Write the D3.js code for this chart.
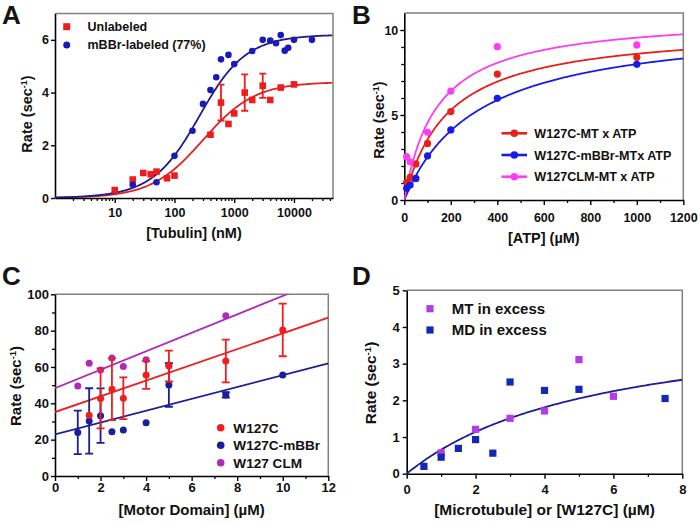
<!DOCTYPE html>
<html><head><meta charset="utf-8">
<script src="https://cdn.jsdelivr.net/npm/d3@7"></script>
<style>
body{margin:0;background:#fff}
svg{display:block;font-family:"Liberation Sans",Arial,sans-serif;font-weight:bold}
</style>
</head><body>
<svg id="c" width="700" height="522"></svg>
<script>
// ---------- Panel A ----------
const aRedX  = [10,20,30,40,50,75,100,400,600,800,1000,1500,2000,3000,4000,6000,10000];
const aRedY  = [0.3,0.7,0.95,0.9,1.0,0.75,0.85,2.4,3.62,2.81,3.21,4.0,3.72,4.26,3.72,4.19,4.31];
const aRedErr= [0,0,0,0,0,0,0,0,0.68,0,0,0.69,0,0.46,0,0,0];
const aBlueX = [20,50,100,200,300,400,500,600,800,1000,2000,3000,4000,5000,6000,7000,8000,10000,20000];
const aBlueY = [0.5,0.6,1.6,2.55,3.57,4.1,4.58,5.26,5.43,5.08,5.58,6.0,5.97,5.87,6.18,5.59,5.7,6.0,6.0];
const aFitRed  = [4.4, 300];        // Vmax, K (hyperbola)
const aFitBlue = [6.2, 100, 210];   // Vmax, E, K (quadratic)
const aXTicks = [10,100,1000,10000];
const aYTicks = [0,2,4,6];
const aNames = ["Unlabeled","mBBr-labeled (77%)"];

// ---------- Panel B ----------
const bX    = [10,25,50,100,200,400,1000];
const bRedY = [1.04,1.33,2.12,3.33,5.2,7.41,8.39];
const bBluY = [0.69,0.88,1.27,2.59,4.12,5.98,7.98];
const bMagX = [10,25,100,200,400,1000];
const bMagY = [2.55,2.25,3.98,6.41,9.02,9.12];
const bFits = [[10.2,186],[10.52,316],[10.88,139.5]]; // Vmax, Km
const bXTicks = [0,200,400,600,800,1000,1200];
const bYTicks = [0,5,10];
const bNames = ["W127C-MT x ATP","W127C-mBBr-MTx ATP","W127CLM-MT x ATP"];

// ---------- Panel C ----------
const cRedX  = [1.5,2,2.5,3,4,5,7.5,10];
const cRedY  = [33.5,42.7,47.7,42.8,55.6,60.5,63.3,80.4];
const cRedErr= [0,16.5,17,11.5,7.6,8.5,11.8,14.5];
const cBluX  = [1,1.5,2,2.5,3,4,5,7.5,10];
const cBluY  = [24,30.3,33.2,24.4,25.3,29.3,50.1,44.6,55.6];
const cBluErr= [12,18,15,0,0,0,12,1.5,0];
const cMagX  = [1,1.5,2,2.5,3,4,5,7.5];
const cMagY  = [49.5,62,58.3,65,60.2,64,61,88.2];
const cFits  = [[35.2,4.33],[22.9,3.26],[48.3,5.08]]; // intercept, slope
const cXTicks = [0,2,4,6,8,10,12];
const cYTicks = [0,20,40,60,80,100];
const cNames = ["W127C","W127C-mBBr","W127 CLM"];

// ---------- Panel D ----------
const dMagX = [1,2,3,4,5,6];
const dMagY = [0.57,1.21,1.51,1.71,3.11,2.11];
const dBluX = [0.5,1,1.5,2,2.5,3,4,5,7.5];
const dBluY = [0.2,0.45,0.69,0.93,0.56,2.5,2.27,2.3,2.05];
const dFit  = [4.38,5.68];
const dXTicks = [0,2,4,6,8];
const dYTicks = [0,1,2,3,4,5];
const dNames = ["MT in excess","MD in excess"];

// ---------- drawing ----------
const svg = d3.select("#c");
const FRAME = "#808080";

function setupPanel(id, x, y, o) {
  const g = svg.append("g");
  const [x0,x1] = x.range(), [y0,y1] = y.range();
  svg.append("clipPath").attr("id","clip"+id).append("rect")
     .attr("x",x0).attr("y",y1).attr("width",x1-x0).attr("height",y0-y1);
  // frame top/right
  g.append("path").attr("d",`M${x0},${y1}H${x1}V${y0}`)
   .attr("fill","none").attr("stroke",FRAME).attr("stroke-width",1.5);
  // minor ticks
  if (o.xMinor) {
    const m = g.append("g").attr("transform",`translate(0,${y0})`)
      .call(d3.axisBottom(x).tickValues(o.xMinor).tickSize(3).tickFormat("").tickSizeOuter(0));
    m.select(".domain").remove();
    m.selectAll("line").attr("stroke-width",1.3);
  }
  if (o.yMinor) {
    const m = g.append("g").attr("transform",`translate(${x0},0)`)
      .call(d3.axisLeft(y).tickValues(o.yMinor).tickSize(3).tickFormat("").tickSizeOuter(0));
    m.select(".domain").remove();
    m.selectAll("line").attr("stroke-width",1.3);
  }
  const gx = g.append("g").attr("transform",`translate(0,${y0})`)
    .call(d3.axisBottom(x).tickValues(o.xTicks).tickSize(5).tickPadding(o.xPad).tickSizeOuter(0)
      .tickFormat(d3.format("d")));
  const gy = g.append("g").attr("transform",`translate(${x0},0)`)
    .call(d3.axisLeft(y).tickValues(o.yTicks).tickSize(4).tickPadding(o.yPad).tickSizeOuter(0)
      .tickFormat(d3.format("d")));
  [gx,gy].forEach(a=>{
    a.select(".domain").attr("stroke","#000").attr("stroke-width",1.6);
    a.selectAll(".tick line").attr("stroke","#000").attr("stroke-width",1.4);
    a.selectAll("text").attr("font-family",null).attr("font-size",o.tickFs).attr("fill","#111");
  });
  // titles
  g.append("text").attr("x",(x0+x1)/2).attr("y",o.xTitleY).attr("text-anchor","middle")
   .attr("font-size",o.titleFs).attr("fill","#111").text(o.xTitle);
  const yt = g.append("text").attr("transform",`translate(${o.yTitleX},${o.yTitleCY}) rotate(-90)`)
   .attr("text-anchor","middle").attr("font-size",o.titleFs).attr("fill","#111");
  yt.append("tspan").text("Rate (sec");
  yt.append("tspan").attr("dy",-5).attr("font-size",o.titleFs*0.62).text("-1");
  yt.append("tspan").attr("dy",5).text(")");
  // letter
  svg.append("text").attr("x",o.letterX).attr("y",o.letterY).attr("font-size",26)
    .attr("fill","#141414").text(o.letter);
  return g.append("g").attr("clip-path",`url(#clip${id})`);
}

function errBars(g, x, y, xs, ys, es, color, cap) {
  const idx = d3.range(xs.length).filter(i=>es[i]>0);
  const e = g.append("g").attr("stroke",color).attr("stroke-width",1.8).attr("fill","none");
  idx.forEach(i=>{
    const cx = x(xs[i]), lo = y(ys[i]-es[i]), hi = y(ys[i]+es[i]);
    e.append("path").attr("d",`M${cx},${lo}V${hi}M${cx-cap},${hi}H${cx+cap}M${cx-cap},${lo}H${cx+cap}`);
  });
}
function circles(g, x, y, xs, ys, color, r) {
  g.append("g").selectAll("circle").data(xs).join("circle")
    .attr("cx",(d)=>x(d)).attr("cy",(d,i)=>y(ys[i])).attr("r",r).attr("fill",color);
}
function squares(g, x, y, xs, ys, color, s) {
  g.append("g").selectAll("rect").data(xs).join("rect")
    .attr("x",(d)=>x(d)-s/2).attr("y",(d,i)=>y(ys[i])-s/2).attr("width",s).attr("height",s).attr("fill",color);
}
function curve(g, x, y, f, color, w, samples) {
  g.append("path").datum(samples).attr("fill","none").attr("stroke",color).attr("stroke-width",w)
   .attr("d", d3.line().x(d=>x(d)).y(d=>y(f(d))));
}

// ===== Panel A =====
{
  const x = d3.scaleLog().domain([1,45000]).range([55,333]);
  const y = d3.scaleLinear().domain([0,7]).range([198,13.5]);
  const minor = x.ticks().filter(v=>!aXTicks.includes(v) && v>1);
  const p = setupPanel("A", x, y, {xTicks:aXTicks, yTicks:aYTicks, xMinor:minor, xPad:5, yPad:2,
     tickFs:12.5, titleFs:14.5, xTitle:"[Tubulin] (nM)", xTitleY:238, yTitleX:32, yTitleCY:114,
     letter:"A", letterX:2, letterY:24});
  const red = "#ee1c1c", blue = "#1a1ab8";
  const samp = d3.range(0, 4.66, 0.02).map(e=>Math.pow(10,e));
  const [vr,kr] = aFitRed, [vb,eb,kb] = aFitBlue;
  curve(p, x, y, v=>vr*v/(kr+v), "#e62020", 1.8, samp);
  curve(p, x, y, v=>{const s=eb+v+kb; return vb*(s-Math.sqrt(s*s-4*eb*v))/(2*eb);}, "#1c1c8c", 1.8, samp);
  errBars(svg, x, y, aRedX, aRedY, aRedErr, red, 3.5);
  squares(svg, x, y, aRedX, aRedY, red, 6.6);
  circles(svg, x, y, aBlueX, aBlueY, blue, 3.3);
  // legend
  const lg = svg.append("g");
  lg.append("rect").attr("x",63.2).attr("y",23.2).attr("width",7).attr("height",7).attr("fill",red);
  lg.append("circle").attr("cx",66.7).attr("cy",45).attr("r",3.5).attr("fill",blue);
  lg.selectAll("text").data(aNames).join("text").attr("x",87.5).attr("y",(d,i)=>31+i*18.3)
    .attr("font-size",12.5).attr("fill","#111").text(d=>d);
}

// ===== Panel B =====
{
  const x = d3.scaleLinear().domain([0,1200]).range([404.3,683.3]);
  const y = d3.scaleLinear().domain([0,11]).range([200,13]);
  const p = setupPanel("B", x, y, {xTicks:bXTicks, yTicks:bYTicks, xMinor:d3.range(100,1200,200),
     yMinor:d3.range(1,11).filter(v=>v%5), xPad:8, yPad:2, tickFs:12.5, titleFs:14.5,
     xTitle:"[ATP] (\u00b5M)", xTitleY:243, yTitleX:384, yTitleCY:120, letter:"B", letterX:352, letterY:24});
  const cols = ["#e8201c","#1a1ae6","#ff3cf5"];
  const samp = d3.range(0,1201,4);
  bFits.forEach(([v,k],i)=>curve(p, x, y, s=>v*s/(k+s), cols[i], 1.8, samp));
  circles(svg, x, y, bX, bRedY, cols[0], 3.6);
  circles(svg, x, y, bX, bBluY, cols[1], 3.6);
  circles(svg, x, y, bMagX, bMagY, cols[2], 3.6);
  const lg = svg.append("g");
  bNames.forEach((n,i)=>{
    const cy = 133.3 + i*21.7;
    lg.append("line").attr("x1",501.5).attr("x2",527).attr("y1",cy).attr("y2",cy)
      .attr("stroke",cols[i]).attr("stroke-width",2.6);
    lg.append("circle").attr("cx",514.3).attr("cy",cy).attr("r",3.8).attr("fill",cols[i]);
    lg.append("text").attr("x",534.3).attr("y",cy+4.6).attr("font-size",12.6).attr("fill","#111").text(n);
  });
}

// ===== Panel C =====
{
  const x = d3.scaleLinear().domain([0,12]).range([55,328.3]);
  const y = d3.scaleLinear().domain([0,100]).range([476,294.3]);
  const p = setupPanel("C", x, y, {xTicks:cXTicks, yTicks:cYTicks, xMinor:d3.range(1,12,2),
     yMinor:d3.range(10,100,20), xPad:2, yPad:2, tickFs:13, titleFs:15,
     xTitle:"[Motor Domain] (\u00b5M)", xTitleY:515, yTitleX:20.5, yTitleCY:386,
     letter:"C", letterX:2, letterY:285});
  const cols = ["#f01e1e","#1a1e9a","#b02ab8"];
  const samp = [0,12];
  cFits.forEach(([a,b],i)=>curve(p, x, y, s=>a+b*s, cols[i], 1.8, samp));
  circles(svg, x, y, cMagX, cMagY, cols[2], 3.5);
  errBars(svg, x, y, cBluX, cBluY, cBluErr, cols[1], 4);
  circles(svg, x, y, cBluX, cBluY, cols[1], 3.5);
  errBars(svg, x, y, cRedX, cRedY, cRedErr, cols[0], 4);
  circles(svg, x, y, cRedX, cRedY, cols[0], 3.5);
  const lg = svg.append("g");
  cNames.forEach((n,i)=>{
    const cy = 427.7 + i*17.5;
    lg.append("circle").attr("cx",220.7).attr("cy",cy).attr("r",3.8).attr("fill",cols[i]);
    lg.append("text").attr("x",233.3).attr("y",cy+5).attr("font-size",13.6).attr("fill","#111").text(n);
  });
}

// ===== Panel D =====
{
  const x = d3.scaleLinear().domain([0,8]).range([406.7,682.3]);
  const y = d3.scaleLinear().domain([0,5]).range([473.7,290.3]);
  const p = setupPanel("D", x, y, {xTicks:dXTicks, yTicks:dYTicks, xMinor:d3.range(1,8,2),
     xPad:6.5, yPad:3, tickFs:13, titleFs:15.5,
     xTitle:"[Microtubule] or [W127C] (\u00b5M)", xTitleY:515, yTitleX:376, yTitleCY:383,
     letter:"D", letterX:352, letterY:285});
  const mag = "#b43ce6", blue = "#1428b4";
  const [v,k] = dFit;
  curve(p, x, y, s=>v*s/(k+s), "#1e1e9a", 1.8, d3.range(0,8.01,0.05));
  squares(svg, x, y, dMagX, dMagY, mag, 7.2);
  squares(svg, x, y, dBluX, dBluY, blue, 7.2);
  const lg = svg.append("g");
  [mag,blue].forEach((c,i)=>{
    const cy = 308.7 + i*21.3;
    lg.append("rect").attr("x",430-3.6).attr("y",cy-3.6).attr("width",7.2).attr("height",7.2).attr("fill",c);
    lg.append("text").attr("x",451.7).attr("y",cy+5.4).attr("font-size",15).attr("fill","#111").text(dNames[i]);
  });
}
</script>
</body></html>
